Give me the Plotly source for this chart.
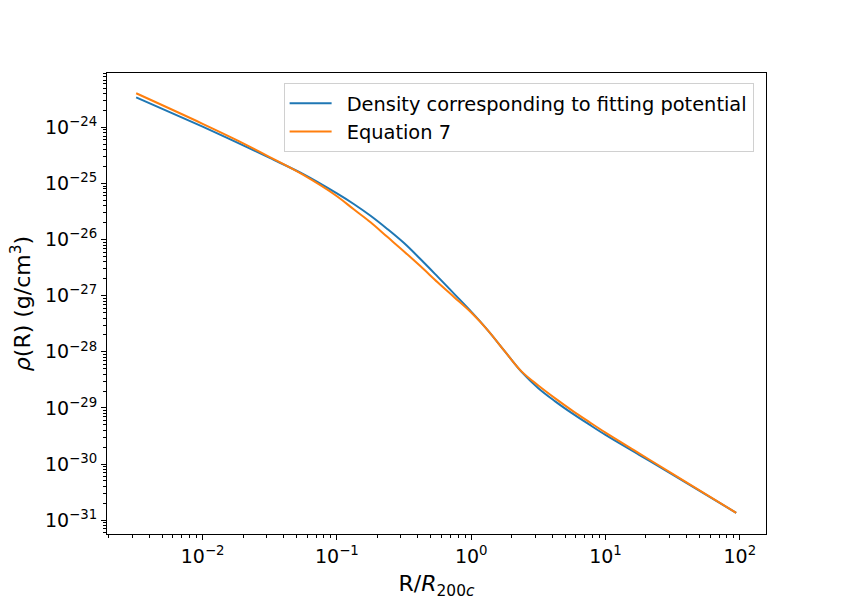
import plotly.graph_objects as go

# R / R_200c sample points
r_ratio = [0.0032, 0.01, 0.0178, 0.0316, 0.0562, 0.1, 0.1334, 0.178, 0.2371, 0.316,
           0.4217, 0.562, 0.75, 1.0, 1.33, 1.78, 2.37, 3.16, 4.22, 5.62, 7.50,
           10.0, 17.8, 31.6, 94.0]

# density from fitting potential (g/cm^3)
rho_fit = [3.44e-24, 1.03e-24, 5.47e-25, 2.86e-25, 1.47e-25, 6.67e-26, 4.32e-26,
           2.66e-26, 1.55e-26, 8.67e-27, 4.42e-27, 2.19e-27, 1.07e-27, 5.21e-28,
           2.42e-28, 1.02e-28, 4.39e-29, 2.25e-29, 1.31e-29, 8.07e-30, 5.13e-30,
           3.30e-30, 1.46e-30, 6.46e-31, 1.35e-31]

# Equation 7 (g/cm^3)
rho_eq7 = [4.06e-24, 1.16e-24, 6.00e-25, 2.96e-25, 1.42e-25, 5.94e-26, 3.47e-26,
           2.04e-26, 1.12e-26, 6.17e-27, 3.31e-27, 1.74e-27, 9.33e-28, 5.01e-28,
           2.42e-28, 1.02e-28, 4.48e-29, 2.51e-29, 1.48e-29, 9.06e-30, 5.69e-30,
           3.62e-30, 1.55e-30, 6.68e-31, 1.35e-31]

x_exps = [-2, -1, 0, 1, 2]
y_exps = [-24, -25, -26, -27, -28, -29, -30, -31]

def sup_label(e):
    return "10<sup>" + str(e).replace("-", "\u2212") + "</sup>"

def minor_vals(lo, hi):
    vals = []
    for e in range(lo, hi + 1):
        for m in range(2, 10):
            vals.append(m * 10.0 ** e)
    return vals

pad = "\u00a0\u2009"  # small gap between legend line and text

fig = go.Figure()
fig.add_trace(go.Scatter(x=r_ratio, y=rho_fit, mode="lines", line_shape="spline",
                         name=pad + "Density corresponding to fitting potential",
                         line=dict(color="#1f77b4", width=2)))
fig.add_trace(go.Scatter(x=r_ratio, y=rho_eq7, mode="lines", line_shape="spline",
                         name=pad + "Equation 7",
                         line=dict(color="#ff7f0e", width=2)))

axis_common = dict(
    type="log", showgrid=False, zeroline=False,
    showline=True, linecolor="black", linewidth=1.1, mirror=True,
    ticks="outside", ticklen=5, tickwidth=1.1, tickcolor="black",
    tickfont=dict(family="DejaVu Sans", size=19, color="black"),
    tickmode="array",
)

fig.update_xaxes(
    **axis_common,
    range=[-2.712, 2.195],
    tickvals=[10.0 ** e for e in x_exps],
    ticktext=[sup_label(e) for e in x_exps],
    minor=dict(tickmode="array", tickvals=minor_vals(-3, 2), ticks="outside",
               ticklen=3, tickwidth=0.8, tickcolor="black", showgrid=False),
    title=dict(text="R/<i>R</i><sub>200<i>c</i></sub>",
               font=dict(family="DejaVu Sans", size=22, color="black"), standoff=11),
)
fig.update_yaxes(
    **axis_common,
    range=[-31.247, -23.03],
    tickvals=[10.0 ** e for e in y_exps],
    ticktext=[sup_label(e) for e in y_exps],
    minor=dict(tickmode="array", tickvals=minor_vals(-32, -23), ticks="outside",
               ticklen=3, tickwidth=0.8, tickcolor="black", showgrid=False),
)

# y title as annotation so it can sit close to the left edge
fig.add_annotation(
    text="<i>ρ</i>(R) (g/cm<sup>3</sup>)", textangle=-90,
    xref="paper", yref="paper", x=-0.131, y=0.5,
    xanchor="center", yanchor="middle", showarrow=False,
    font=dict(family="DejaVu Sans", size=22, color="black"),
)

# page has an 8px body margin, so the figure is drawn 8px smaller
fig.update_layout(
    width=842, height=592,
    margin=dict(l=99, r=84, t=65, b=66, autoexpand=False),
    plot_bgcolor="white", paper_bgcolor="white",
    font=dict(family="DejaVu Sans", color="black"),
    legend=dict(x=0.268, y=0.978, xanchor="left", yanchor="top", itemwidth=42,
                bgcolor="rgba(255,255,255,0.8)", bordercolor="#d0d0d0", borderwidth=1,
                font=dict(family="DejaVu Sans", size=19.4, color="black")),
)

fig.write_html("out.html")
